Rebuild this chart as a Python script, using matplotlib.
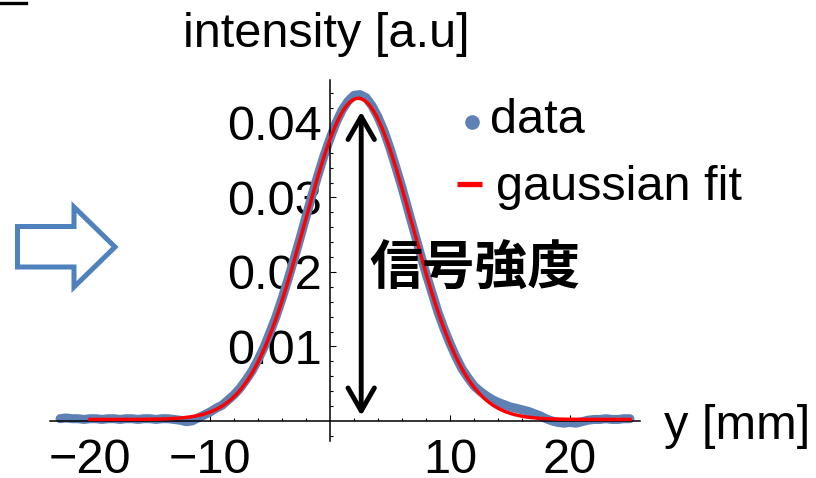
import numpy as np
import matplotlib
matplotlib.use('Agg')
import matplotlib.pyplot as plt
from matplotlib.lines import Line2D
from matplotlib.patches import Polygon

plt.rcParams['font.family'] = ['Liberation Sans', 'Noto Sans CJK JP', 'DejaVu Sans']

y_mm = [-22.5, -22, -21.5, -21, -20.5, -20, -19.5, -19, -18.5, -18,
        -17.5, -17, -16.5, -16, -15.5, -15, -14.5, -14, -13.5, -13,
        -12.5, -12, -11.5, -11, -10.5, -10, -9.5, -9, -8.5, -8,
        -7.5, -7, -6.5, -6, -5.5, -5, -4.5, -4, -3.5, -3,
        -2.5, -2, -1.5, -1, -0.5, 0, 0.5, 1, 1.5, 2,
        2.5, 3, 3.5, 4, 4.5, 5, 5.5, 6, 6.5, 7,
        7.5, 8, 8.5, 9, 9.5, 10, 10.5, 11, 11.5, 12,
        12.5, 13, 13.5, 14, 14.5, 15, 15.5, 16, 16.5, 17,
        17.5, 18, 18.5, 19, 19.5, 20, 20.5, 21, 21.5, 22,
        22.5, 23, 23.5, 24, 24.5, 25]
intensity = [0.0003, 0.0004, 0.0003, 0.0003, 0.0002, 0.0003, 0.0003, 0.0002, 0.0003, 0.0003,
             0.0002, 0.0003, 0.0003, 0.0002, 0.0003, 0.0003, 0.0002, 0.0003, 0.0003, 0.0002,
             0.0001, -0.0001, 0.0000, 0.0004, 0.0008, 0.0012, 0.0017, 0.0021, 0.0028, 0.0035,
             0.0044, 0.0055, 0.0067, 0.0082, 0.0099, 0.0119, 0.0140, 0.0164, 0.0190, 0.0217,
             0.0245, 0.0274, 0.0303, 0.0330, 0.0356, 0.0379, 0.0400, 0.0417, 0.0429, 0.0437,
             0.0438, 0.0434, 0.0423, 0.0408, 0.0389, 0.0366, 0.0340, 0.0313, 0.0284, 0.0255,
             0.0226, 0.0198, 0.0172, 0.0146, 0.0124, 0.0104, 0.0086, 0.0070, 0.0058, 0.0047,
             0.0040, 0.0034, 0.0029, 0.0025, 0.0022, 0.0019, 0.0017, 0.0015, 0.0013, 0.0010,
             0.0007, 0.0003, 0.0000, -0.0002, -0.0003, -0.0002, -0.0003, -0.0001, 0.0001, 0.0002,
             0.0002, 0.0003, 0.0002, 0.0002, 0.0003, 0.0003]

# gaussian fit parameters
fit_amp = 0.0431
fit_mu = 2.35
fit_sigma = 4.5
fit_offset = 0.0002
fit_start, fit_end = -20, 25

x_major = [-20, -10, 10, 20]
x_labels = ['\u221220', '\u221210', '10', '20']
y_major = [0.01, 0.02, 0.03, 0.04]
y_labels = ['0.01', '0.02', '0.03', '0.04']

arrow_x = 2.6
arrow_bottom, arrow_top = 0.0007, 0.0415

blue = '#5E81B5'
office_blue = '#4F81BD'
W, H = 816, 478
fs = 35

fig = plt.figure(figsize=(W / 100, H / 100), dpi=100)
ax = fig.add_axes([40 / W, 1 - 450 / H, 610 / W, 380 / H])
ax.set_xlim(-24.17, 26.67)
ax.set_ylim(-0.0039, 0.0471)

ax.plot(y_mm, intensity, color=blue, lw=6.5, solid_capstyle='round',
        solid_joinstyle='round', zorder=2)

xf = np.linspace(fit_start, fit_end, 500)
yf = fit_offset + fit_amp * np.exp(-(xf - fit_mu) ** 2 / (2 * fit_sigma ** 2))
ax.plot(xf, yf, color='red', lw=2.5, zorder=3)

# axes through the origin, mathematica style
for s in ['top', 'right']:
    ax.spines[s].set_visible(False)
ax.spines['left'].set_position(('data', 0))
ax.spines['bottom'].set_position(('data', 0))
ax.spines['bottom'].set_bounds(-23.3, 25.8)
ax.spines['left'].set_bounds(-0.0027, 0.0458)
for s in ['left', 'bottom']:
    ax.spines[s].set_linewidth(1.1)

ax.set_xticks(x_major)
ax.set_xticklabels(x_labels)
ax.set_xticks([v for v in range(-22, 25, 2) if v % 10 != 0], minor=True)
ax.set_yticks(y_major)
ax.set_yticklabels(y_labels)
ax.set_yticks([k * 0.002 for k in range(-1, 23) if k % 5 != 0], minor=True)
ax.tick_params(which='both', direction='in', width=0.8, labelsize=fs)
ax.tick_params(which='major', length=4.2)
ax.tick_params(which='minor', length=2.3)
ax.tick_params(axis='x', pad=12.5)
ax.tick_params(axis='y', pad=6)

# double arrow + label
ax.annotate('', xy=(arrow_x, arrow_top), xytext=(arrow_x, arrow_bottom),
            arrowprops=dict(arrowstyle='<->,head_length=1.65,head_width=0.95',
                            lw=3.5, color='black', shrinkA=0, shrinkB=0,
                            mutation_scale=10), zorder=4)
ax.text(3.3, 0.0203, '信号強度', fontsize=38, fontweight='bold',
        family=['Noto Sans CJK JP'], ha='left', va='center', zorder=5)

# axis labels
fig.text(183 / W, 1 - 47 / H, 'intensity [a.u]', fontsize=fs, va='baseline')
fig.text(664 / W, 1 - 439 / H, 'y [mm]', fontsize=fs, va='baseline')

# legend
fig.add_artist(Line2D([472 / W], [1 - 122 / H], transform=fig.transFigure,
                      marker='o', ms=9.5, color=blue, lw=0))
fig.text(490 / W, 1 - 133 / H, 'data', fontsize=fs, va='baseline')
fig.add_artist(Line2D([457 / W, 482 / W], [1 - 184 / H] * 2, transform=fig.transFigure,
                      color='red', lw=3.8, solid_capstyle='butt'))
fig.text(496 / W, 1 - 200 / H, 'gaussian fit', fontsize=fs, va='baseline')

# hollow arrow on the left
pts = [(17.5, 226.5), (74, 226.5), (74, 207), (115, 247), (74, 287), (74, 267), (17.5, 267)]
fig.add_artist(Polygon([(px / W, 1 - py / H) for px, py in pts], closed=True,
                       fill=False, edgecolor=office_blue, lw=3.6, joinstyle='miter',
                       transform=fig.transFigure))

# cropped mark in the top-left corner
fig.add_artist(Line2D([0, 26 / W], [1 - 2.5 / H] * 2, transform=fig.transFigure,
                      color='black', lw=2.4))

fig.savefig('out.png', dpi=100)
